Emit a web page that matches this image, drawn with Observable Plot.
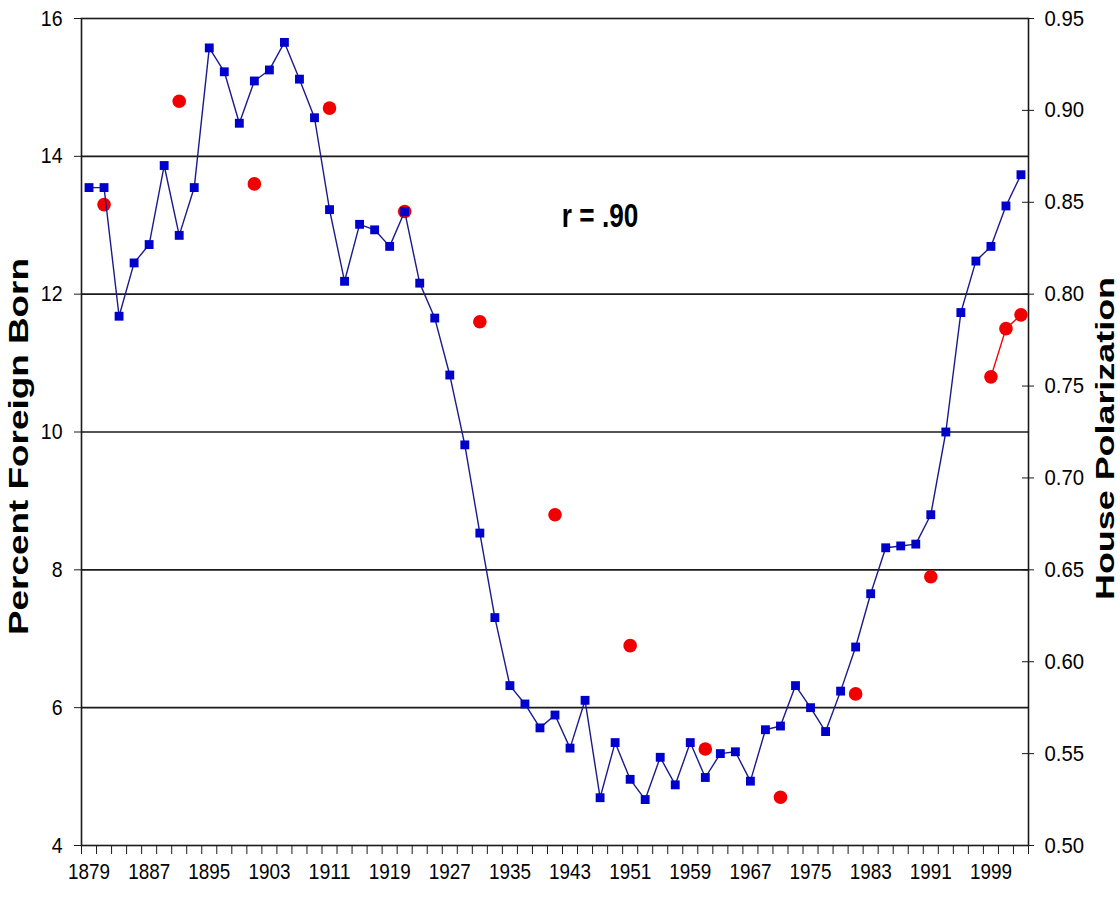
<!DOCTYPE html>
<html>
<head>
<meta charset="utf-8">
<script src="https://cdn.jsdelivr.net/npm/d3@7"></script>
<script src="https://cdn.jsdelivr.net/npm/@observablehq/plot@0.6"></script>
<style>
  html, body { margin: 0; padding: 0; background: #fff; }
  #chart svg { display: block; }
</style>
</head>
<body>
<div id="chart"></div>
<script>
// Congress start years (x categories)
const congressYears = [1879, 1881, 1883, 1885, 1887, 1889, 1891, 1893, 1895, 1897, 1899,
  1901, 1903, 1905, 1907, 1909, 1911, 1913, 1915, 1917, 1919, 1921, 1923, 1925, 1927, 1929,
  1931, 1933, 1935, 1937, 1939, 1941, 1943, 1945, 1947, 1949, 1951, 1953, 1955, 1957, 1959,
  1961, 1963, 1965, 1967, 1969, 1971, 1973, 1975, 1977, 1979, 1981, 1983, 1985, 1987, 1989,
  1991, 1993, 1995, 1997, 1999, 2001, 2003];

// House polarization (right axis)
const polarization = [0.858, 0.858, 0.788, 0.817, 0.827, 0.870, 0.832, 0.858, 0.934, 0.921, 0.893,
  0.916, 0.922, 0.937, 0.917, 0.896, 0.846, 0.807, 0.838, 0.835, 0.826, 0.845, 0.806, 0.787, 0.756, 0.718,
  0.670, 0.624, 0.587, 0.577, 0.564, 0.571, 0.553, 0.579, 0.526, 0.556, 0.536, 0.525, 0.548, 0.533, 0.556,
  0.537, 0.550, 0.551, 0.535, 0.563, 0.565, 0.587, 0.575, 0.562, 0.584, 0.608, 0.637, 0.662, 0.663, 0.664,
  0.680, 0.725, 0.790, 0.818, 0.826, 0.848, 0.865];

// Percent foreign born (left axis)
const foreignYears = [1881, 1891, 1901, 1911, 1921, 1931, 1941, 1951, 1961, 1971, 1981, 1991, 1999, 2001, 2003];
const foreignBorn  = [13.3, 14.8, 13.6, 14.7, 13.2, 11.6, 8.8, 6.9, 5.4, 4.7, 6.2, 7.9, 10.8, 11.5, 11.7];

// Axis ticks
const leftTicks = [4, 6, 8, 10, 12, 14, 16];
const rightTicks = [0.50, 0.55, 0.60, 0.65, 0.70, 0.75, 0.80, 0.85, 0.90, 0.95];
const xLabelYears = [1879, 1887, 1895, 1903, 1911, 1919, 1927, 1935, 1943, 1951, 1959, 1967, 1975, 1983, 1991, 1999];
const annotation = [{year: 1947, value: 13.13, label: "r = .90"}];

// Right axis (0.50–0.95) mapped onto left axis (4–16)
const rightMin = 0.50, rightPerLeftUnit = 0.0375, leftMin = 4;
const toLeft = v => leftMin + (v - rightMin) / rightPerLeftUnit;
const fromLeft = d => rightMin + (d - leftMin) * rightPerLeftUnit;

const polar = congressYears.map((year, i) => ({year, value: polarization[i]}));
const foreign = foreignYears.map((year, i) => ({year, value: foreignBorn[i]}));
// red series laid on the category axis: gaps where no value (Excel-like)
const foreignByCategory = congressYears.map(year => {
  const k = foreignYears.indexOf(year);
  return {year, value: k >= 0 ? foreignBorn[k] : NaN};
});
const categoryBounds = [congressYears[0] - 1, ...congressYears.map(y => y + 1)];

const font = "'Liberation Sans', Arial, sans-serif";

const chart = Plot.plot({
  width: 1120,
  height: 906,
  marginLeft: 81,
  marginRight: 92,
  marginTop: 18,
  marginBottom: 61,
  x: {domain: [categoryBounds[0], categoryBounds[categoryBounds.length - 1]]},
  y: {domain: [4, 16]},
  style: {fontFamily: font, fontSize: "22px", color: "#000", background: "#fff"},
  marks: [
    Plot.ruleY(leftTicks.filter(d => d > 4 && d < 16), {stroke: "#1a1a1a", strokeWidth: 1.6}),
    Plot.frame({stroke: "#1a1a1a", strokeWidth: 1.6}),
    Plot.axisY(leftTicks, {anchor: "left", tickSize: 7, tickPadding: 12, label: null, stroke: "#1a1a1a",
      tickFormat: d => String(d)}),
    Plot.axisY(rightTicks.map(toLeft), {anchor: "right", tickSize: 12, dx: -7, tickPadding: 11,
      tickFormat: d => fromLeft(d).toFixed(2), label: null, stroke: "#1a1a1a"}),
    Plot.axisX(categoryBounds, {anchor: "bottom", tickSize: 9, tickFormat: () => "", label: null, stroke: "#1a1a1a"}),
    Plot.axisX(xLabelYears, {anchor: "bottom", tickSize: 0, tickPadding: 18, tickFormat: d => String(d), label: null}),
    Plot.line(foreignByCategory, {x: "year", y: "value", stroke: "#ee0000", strokeWidth: 1.4}),
    Plot.dot(foreign, {x: "year", y: "value", r: 6.8, fill: "#f00000", stroke: null}),
    Plot.line(polar, {x: "year", y: d => toLeft(d.value), stroke: "#1a1a8c", strokeWidth: 1.4}),
    Plot.dot(polar, {x: "year", y: d => toLeft(d.value), symbol: "square", r: 5, fill: "#0000cc", stroke: null}),
    Plot.text(annotation, {x: "year", y: "value", text: "label", fontSize: 34, fontWeight: "bold", fill: "#000"})
  ]
});

document.getElementById("chart").appendChild(chart);

const svg = d3.select(chart);

// condense text to match the reference's narrow lettering
const fitText = (sel, perChar) => sel.each(function () {
  const s = this.textContent;
  if (!s) return;
  let len = 0;
  for (const c of s) len += perChar[c] ?? perChar.default;
  d3.select(this).attr("textLength", len).attr("lengthAdjust", "spacingAndGlyphs");
});
fitText(svg.selectAll('g[aria-label="x-axis tick label"] text'), {default: 10.5});
fitText(svg.selectAll('g[aria-label="y-axis tick label"] text'), {default: 10.85, ".": 7});
fitText(svg.selectAll('g[aria-label="text"] text'), {default: 14, " ": 7, "r": 10.5, "=": 16, ".": 8});

svg.append("text")
  .attr("transform", "translate(17.5,446.5) rotate(-90)")
  .attr("text-anchor", "middle")
  .attr("dy", "0.36em")
  .attr("font-family", font)
  .attr("font-size", 28)
  .attr("font-weight", "bold")
  .attr("textLength", 377)
  .attr("lengthAdjust", "spacingAndGlyphs")
  .text("Percent Foreign Born");
svg.append("text")
  .attr("transform", "translate(1104.5,438.5) rotate(-90)")
  .attr("text-anchor", "middle")
  .attr("dy", "0.36em")
  .attr("font-family", font)
  .attr("font-size", 26)
  .attr("font-weight", "bold")
  .attr("textLength", 323)
  .attr("lengthAdjust", "spacingAndGlyphs")
  .text("House Polarization");
</script>
</body>
</html>
